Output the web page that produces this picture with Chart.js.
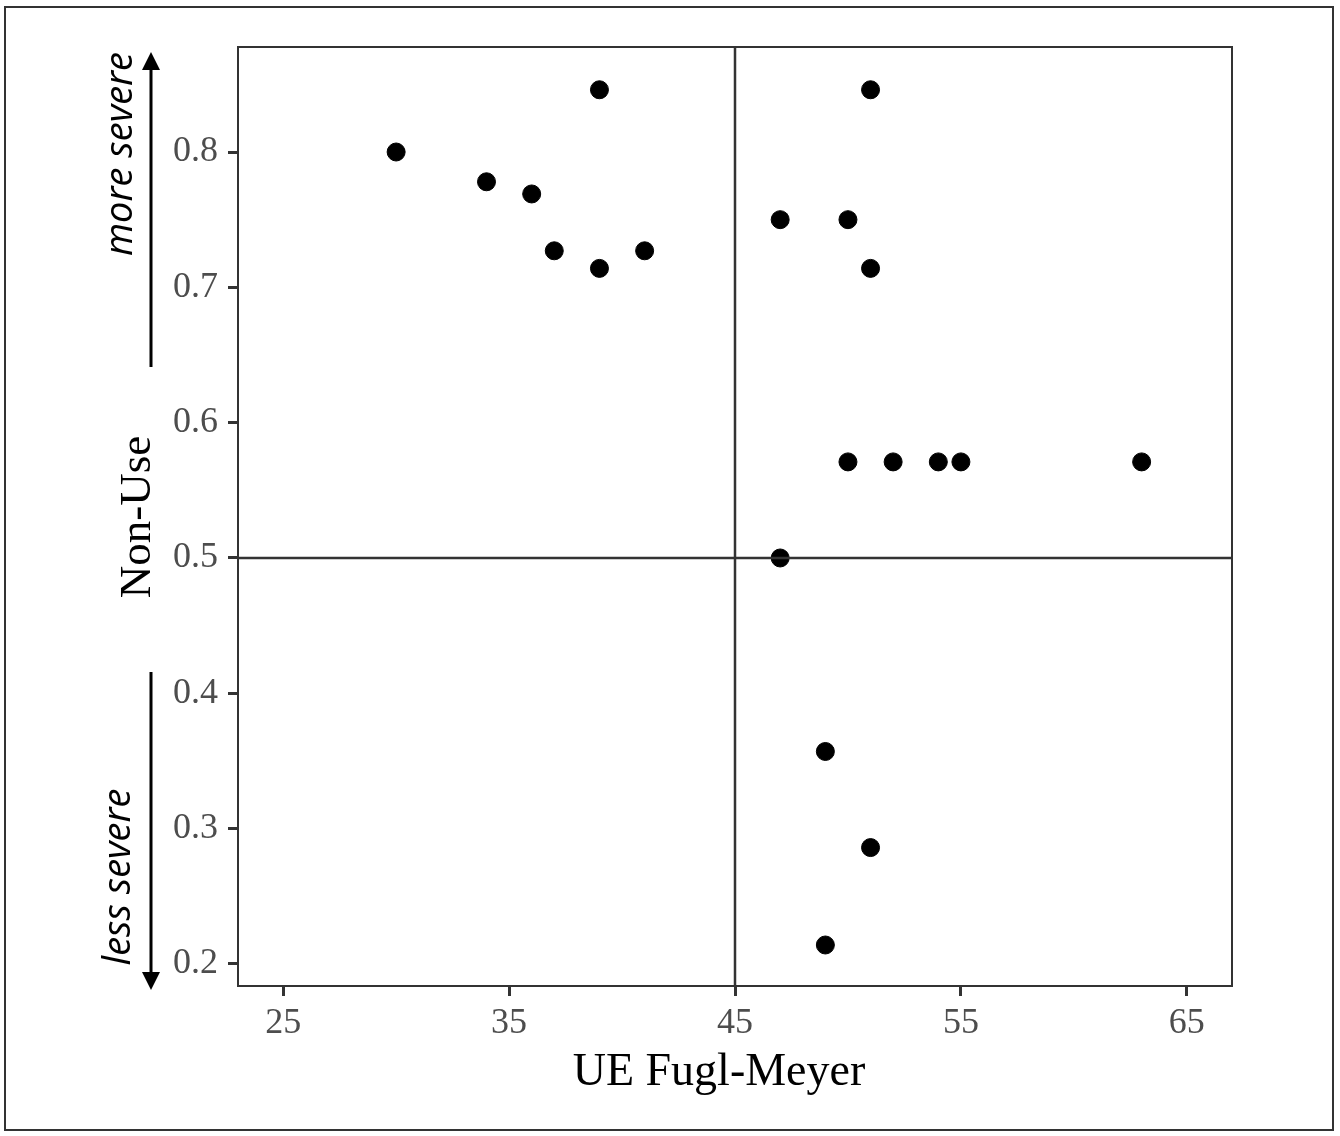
<!DOCTYPE html>
<html>
<head>
<meta charset="utf-8">
<script src="https://cdn.jsdelivr.net/npm/chart.js@4"></script>
<style>
    body { margin: 0; background: #fff; }
    canvas { display: block; }
</style>
</head>
<body>
<canvas id="scatter" width="1340" height="1136"></canvas>
<script>
// UE Fugl-Meyer vs Non-Use
const fuglMeyer = [30, 34, 36, 37, 39, 39, 41, 47, 50, 51, 51, 50, 52, 54, 55, 63, 47, 49, 51, 49];
const nonUse = [0.800, 0.778, 0.769, 0.727, 0.714, 0.846, 0.727, 0.750, 0.750, 0.846, 0.714,
    0.571, 0.571, 0.571, 0.571, 0.571, 0.500, 0.357, 0.286, 0.214];

const xTicks = [25, 35, 45, 55, 65];
const yTicks = [0.2, 0.3, 0.4, 0.5, 0.6, 0.7, 0.8];
const xRange = [23, 67];
const yRange = [0.1837, 0.8776];

// quadrant split
const xCut = 45;
const yCut = 0.5;

const points = fuglMeyer.map((x, i) => ({ x, y: nonUse[i] }));

const serif = '"Liberation Serif", "Times New Roman", serif';
const dark = '#333333';

function drawArrow(ctx, x, y0, y1) {
    // y0 tail, y1 tip
    const dir = y1 < y0 ? -1 : 1;
    ctx.save();
    ctx.strokeStyle = '#000';
    ctx.fillStyle = '#000';
    ctx.lineWidth = 3;
    ctx.beginPath();
    ctx.moveTo(x, y0);
    ctx.lineTo(x, y1 - dir * 14);
    ctx.stroke();
    ctx.beginPath();
    ctx.moveTo(x, y1);
    ctx.lineTo(x - 9, y1 - dir * 18);
    ctx.lineTo(x + 9, y1 - dir * 18);
    ctx.closePath();
    ctx.fill();
    ctx.restore();
}

function rotatedText(ctx, text, x, y, font) {
    ctx.save();
    ctx.translate(x, y);
    ctx.rotate(-Math.PI / 2);
    ctx.font = font;
    ctx.fillStyle = '#000';
    ctx.textAlign = 'center';
    ctx.textBaseline = 'middle';
    ctx.fillText(text, 0, 0);
    ctx.restore();
}

const decorations = {
    id: 'decorations',
    beforeDatasetsDraw(chart) {
        const { ctx, chartArea: a } = chart;
        ctx.save();
        ctx.strokeStyle = dark;
        ctx.lineWidth = 2;
        ctx.strokeRect(a.left, a.top, a.right - a.left, a.bottom - a.top);
        ctx.restore();
    },
    afterDraw(chart) {
        const { ctx } = chart;
        // outer frame
        ctx.save();
        ctx.strokeStyle = dark;
        ctx.lineWidth = 2;
        ctx.strokeRect(5, 7, 1328, 1123);
        ctx.restore();

        // axis titles
        ctx.save();
        ctx.font = '46px ' + serif;
        ctx.fillStyle = '#000';
        ctx.textAlign = 'center';
        ctx.textBaseline = 'middle';
        ctx.fillText('UE Fugl-Meyer', 719, 1073);
        ctx.restore();
        rotatedText(ctx, 'Non-Use', 138, 517, '45px ' + serif);

        // severity arrows
        drawArrow(ctx, 151, 367, 52);
        drawArrow(ctx, 151, 672, 990);
        rotatedText(ctx, 'more severe', 121, 154, 'italic 38px "Open Sans", sans-serif');
        rotatedText(ctx, 'less severe', 119, 877, 'italic 38px "Open Sans", sans-serif');
    }
};

new Chart(document.getElementById('scatter'), {
    type: 'scatter',
    data: {
        datasets: [
            {
                data: points,
                backgroundColor: '#000',
                borderColor: '#000',
                pointRadius: 9,
                pointHoverRadius: 9,
                order: 2
            },
            {
                type: 'line',
                data: [{ x: xCut, y: yRange[0] }, { x: xCut, y: yRange[1] }],
                borderColor: dark,
                borderWidth: 2.5,
                pointRadius: 0,
                order: 1
            },
            {
                type: 'line',
                data: [{ x: xRange[0], y: yCut }, { x: xRange[1], y: yCut }],
                borderColor: dark,
                borderWidth: 2.5,
                pointRadius: 0,
                order: 1
            }
        ]
    },
    options: {
        responsive: false,
        animation: false,
        layout: { padding: { left: 0, top: 47, right: 108, bottom: 0 } },
        plugins: {
            legend: { display: false },
            tooltip: { enabled: false }
        },
        scales: {
            x: {
                type: 'linear',
                min: xRange[0],
                max: xRange[1],
                afterBuildTicks: s => { s.ticks = xTicks.map(v => ({ value: v })); },
                afterFit: s => { s.height = 150; },
                grid: { drawOnChartArea: false, tickLength: 10, tickColor: dark, tickWidth: 3 },
                border: { color: dark, width: 2 },
                ticks: {
                    color: '#4d4d4d',
                    padding: 6,
                    maxRotation: 0,
                    font: { family: serif, size: 36 }
                }
            },
            y: {
                type: 'linear',
                min: yRange[0],
                max: yRange[1],
                afterBuildTicks: s => { s.ticks = yTicks.map(v => ({ value: v })); },
                afterFit: s => { s.width = 238; },
                grid: { drawOnChartArea: false, tickLength: 10, tickColor: dark, tickWidth: 3 },
                border: { color: dark, width: 2 },
                ticks: {
                    color: '#4d4d4d',
                    padding: 10,
                    callback: v => v.toFixed(1),
                    font: { family: serif, size: 36 }
                }
            }
        }
    },
    plugins: [decorations]
});
</script>
</body>
</html>
